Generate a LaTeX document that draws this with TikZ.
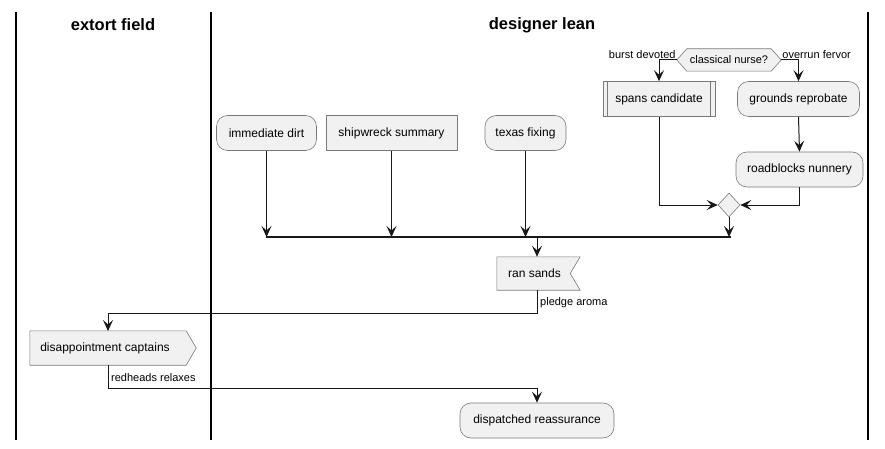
\documentclass[tikz,border=0pt]{standalone}
\usepackage{fontspec}
\setmainfont{Liberation Sans}
\usetikzlibrary{arrows.meta,shapes.geometric,calc}
\pgfdeclarelayer{bg}
\pgfdeclarelayer{canvas}
\pgfsetlayers{canvas,bg,main}
\definecolor{boxfill}{HTML}{F1F1F1}
\definecolor{boxline}{HTML}{7A7A7A}
\definecolor{ink}{HTML}{181818}
\begin{document}
\begin{tikzpicture}[x=1pt,y=-1pt,
  base/.style={inner sep=0pt, font=\fontsize{12}{14}\selectfont, text=black},
  box/.style={base, draw=boxline, fill=boxfill, line width=0.6pt, minimum height=35pt},
  rbox/.style={box, rounded corners=11pt},
  plain/.style={base, minimum height=35pt},
  outline/.style={draw=boxline, fill=boxfill, line width=0.6pt},
  lbl/.style={inner sep=1pt, font=\fontsize{11}{13}\selectfont, text=black},
  title/.style={inner sep=0pt, font=\fontsize{16.5}{20}\selectfont\bfseries, text=black},
  lane/.style={draw=black, line width=1.4pt},
  arr/.style={draw=ink, line width=1pt, -{Stealth[length=11pt,width=10pt,inset=4.5pt]}},
  bar/.style={draw=ink, line width=1.6pt}
]
\useasboundingbox (0,0) rectangle (885,449);
\begin{pgfonlayer}{canvas}
\fill[white] (0,0) rectangle (885,449);
\end{pgfonlayer}

% swimlanes
\draw[lane] (16,12) -- (16,440);
\draw[lane] (211,12) -- (211,440);
\draw[lane] (868,12) -- (868,440);
\node[title] (t1) at (113,25) {extort field};
\node[title] (t2) at (542,25) {designer lean};

% decision
\node[base, minimum width=104pt, minimum height=22pt, font=\fontsize{11}{13}\selectfont] (cn) at (729,60) {classical nurse?};
\begin{pgfonlayer}{bg}
\draw[outline] (cn.west) -- ([xshift=10pt]cn.north west) -- ([xshift=-10pt]cn.north east)
  -- (cn.east) -- ([xshift=-10pt]cn.south east) -- ([xshift=10pt]cn.south west) -- cycle;
\end{pgfonlayer}
\node[lbl, anchor=south east] (lb1) at (cn.west) {burst devoted};
\node[lbl, anchor=south west] (lb2) at (cn.east) {overrun fervor};

% activities
\node[box, minimum width=112pt] (sc) at (659,99) {spans candidate};
\draw[draw=boxline, line width=0.6pt] ([xshift=5pt]sc.north west) -- ([xshift=5pt]sc.south west);
\draw[draw=boxline, line width=0.6pt] ([xshift=-5pt]sc.north east) -- ([xshift=-5pt]sc.south east);
\node[rbox, minimum width=122pt] (gr) at (798.5,99) {grounds reprobate};
\node[rbox, minimum width=127pt] (rn) at (799.5,169.5) {roadblocks nunnery};
\node[diamond, draw=boxline, fill=boxfill, line width=0.6pt, inner sep=0pt, minimum width=22pt, minimum height=24pt, aspect=0.92] (md) at (729,205) {};

\node[rbox, minimum width=100pt] (id) at (266.5,133) {immediate dirt};
\node[box, minimum width=131pt] (sw) at (391.5,133) {shipwreck summary};
\node[rbox, minimum width=81pt] (tf) at (525.5,133) {texas fixing};

% join bar
\coordinate (barL) at (266,237);
\coordinate (barR) at (731,237);
\coordinate (j) at (537,237);
\draw[bar] (barL) -- (barR);

% ran sands (flag with notch)
\node[plain, minimum width=83pt, minimum height=33pt] (rs) at (538.5,273.5) {\hspace{-8pt}ran sands};
\begin{pgfonlayer}{bg}
\draw[outline] (rs.north west) -- (rs.north east) -- ([xshift=-10pt]rs.east) -- (rs.south east) -- (rs.south west) -- cycle;
\end{pgfonlayer}

% disappointment captains (pointing right)
\node[plain, minimum width=166pt, minimum height=34pt] (dc) at (113,348) {\hspace{-16pt}disappointment captains};
\begin{pgfonlayer}{bg}
\draw[outline] (dc.north west) -- ([xshift=-10pt]dc.north east) -- (dc.east) -- ([xshift=-10pt]dc.south east) -- (dc.south west) -- cycle;
\end{pgfonlayer}
\coordinate (dcin) at (108,331);
\coordinate (dcout) at (108,365);

\node[rbox, minimum width=154pt] (dr) at (537,420.5) {dispatched reassurance};

% connectors
\draw[arr] (cn.west) -| (sc.north);
\draw[arr] (cn.east) -| (gr.north);
\draw[arr] (gr.south) -- (rn.north);
\draw[arr] (sc.south) |- (md.west);
\draw[arr] (rn.south) |- (md.east);
\draw[arr] (md.south) -- (md.south |- barR);
\draw[arr] (id.south) -- (id.south |- barL);
\draw[arr] (sw.south) -- (sw.south |- barL);
\draw[arr] (tf.south) -- (tf.south |- barL);
\draw[arr] (j) -- (j |- rs.north);

\draw[arr] (j |- rs.south) -- ++(0,23) coordinate (k1) -| (dcin);
\node[lbl, anchor=west] (lp) at (539,303) {pledge aroma};

\draw[arr] (dcout) -- ++(0,23) coordinate (k2) -| (dr.north);
\node[lbl, anchor=west] (lr) at (110,378) {redheads relaxes};
\end{tikzpicture}
\end{document}
